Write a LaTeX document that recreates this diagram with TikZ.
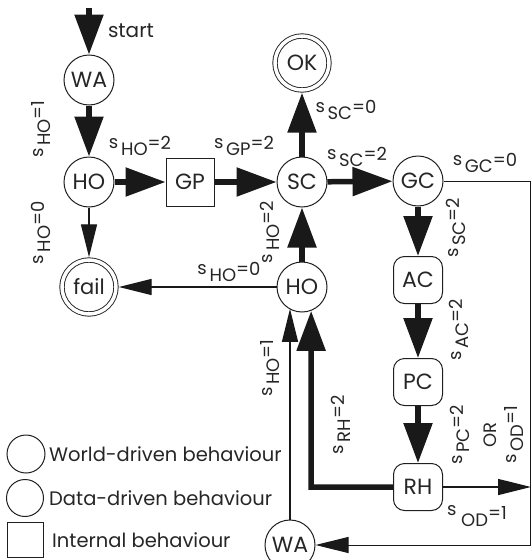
\documentclass[tikz,border=0pt]{standalone}
\usepackage{fontspec}
\setmainfont{Poppins}
\usetikzlibrary{arrows.meta,calc}
\newcommand{\slab}[2]{\raisebox{0.4em}{s}\kern0.15em #1\raisebox{0.32em}{=#2}}
\begin{document}
\begin{tikzpicture}[x=1pt,y=-1pt,
  st/.style={circle,draw=black!88,line width=1pt,minimum size=50pt,inner sep=0pt,text=black!85,font=\fontsize{22}{22}\selectfont},
  fin/.style={st,double,double distance=3.5pt,line width=0.9pt,minimum size=54pt,outer sep=2.7pt},
  box/.style={rectangle,draw=black!88,line width=1pt,minimum size=48pt,inner sep=0pt,text=black!85,font=\fontsize{22}{22}\selectfont},
  dbox/.style={rectangle,rounded corners=11pt,draw=black!88,line width=1pt,minimum width=49pt,minimum height=47pt,inner sep=0pt,text=black!85,font=\fontsize{22}{22}\selectfont},
  thk/.style={draw=black!90,line width=5.5pt,-{Triangle[length=40pt,width=28pt]}},
  thn/.style={draw=black!90,line width=1.3pt,-{Triangle[length=33pt,width=16pt]}},
  lbl/.style={inner sep=0pt,text=black!85,font=\fontsize{18}{27}\selectfont},
  leg/.style={inner sep=0pt,anchor=west,text=black!85,font=\fontsize{19.5}{19.5}\selectfont}]
\useasboundingbox (0,0) rectangle (532,560);
% states
\node[st] (WA1) at (89,80) {WA};
\node[st] (HO1) at (89,182) {HO};
\node[fin,font=\fontsize{21}{21}\selectfont] (fail) at (89,287) {fail};
\node[box] (GP) at (190,182) {GP};
\node[st] (SC) at (302,182) {SC};
\node[fin] (OK) at (302,63) {OK};
\node[st] (GC) at (418,181) {GC};
\node[dbox] (AC) at (418,280) {AC};
\node[dbox] (PC) at (418,382) {PC};
\node[dbox] (RH) at (418,487) {RH};
\node[st] (HOm) at (302,287) {HO};
\node[st] (WA2) at (290,545) {WA};
% helper coordinates
\coordinate (cS) at (89,8);
\coordinate (cR) at (531,487);
\coordinate (cC1) at (530,181);
\coordinate (cC2) at (530,545);
\coordinate (bend) at (311,487);
% connectors
\draw[thk] (cS) -- (WA1);
\draw[thk] (WA1) -- (HO1);
\draw[thk] (HO1) -- (GP);
\draw[thk] (GP) -- (SC);
\draw[thn] (HO1) -- (fail);
\draw[thk] (SC) -- (OK);
\draw[thk] (SC) -- (GC);
\draw[thk] (GC) -- (AC);
\draw[thk] (AC) -- (PC);
\draw[thk] (PC) -- (RH);
\draw[thk] (HOm) -- (SC);
\draw[thn] (HOm) -- (fail);
\draw[thk] (RH.west) -- (bend) -- (HOm.-69);
\draw[thn] (RH.east) -- (cR);
\draw[thn,line width=1pt] (GC.east) -- (cC1) -- (cC2) -- (WA2.east);
\draw[thn] (WA2.north) -- (WA2.north |- HOm.-121);
% labels
\node[lbl,font=\fontsize{20}{20}\selectfont] (start) at (131,31) {start};
\node[lbl,rotate=90] (l1) at (41,129) {\slab{HO}{1}};
\node[lbl,rotate=90] (l2) at (41,233) {\slab{HO}{0}};
\node[lbl] (l3) at (140,146) {\slab{HO}{2}};
\node[lbl] (l4) at (244,146) {\slab{GP}{2}};
\node[lbl] (l5) at (346,110) {\slab{SC}{0}};
\node[lbl] (l6) at (357,157) {\slab{SC}{2}};
\node[lbl] (l7) at (485,163) {\slab{GC}{0}};
\node[lbl,rotate=90] (l8) at (456,228) {\slab{SC}{2}};
\node[lbl,rotate=90] (l9) at (270,232) {\slab{HO}{2}};
\node[lbl] (l10) at (229,272) {\slab{HO}{0}};
\node[lbl,rotate=90] (l11) at (270,368) {\slab{HO}{1}};
\node[lbl,rotate=90] (l12) at (341,425) {\slab{RH}{2}};
\node[lbl,rotate=90] (l13) at (459,330) {\slab{AC}{2}};
\node[lbl,rotate=90,align=center] (l14) at (487,435) {\slab{PC}{2}\\OR\\\slab{OD}{1}};
\node[lbl] (l15) at (477,516) {\raisebox{0.6em}{s}\kern0.25em OD\raisebox{0.4em}{=1}};
% legend
\node[circle,draw=black!88,line width=1pt,minimum size=38pt,inner sep=0pt] (L1) at (26,454) {};
\node[leg] (T1) at (49,454) {World-driven behaviour};
\node[circle,draw=black!88,line width=1pt,minimum size=37pt,inner sep=0pt] (L2) at (25,498) {};
\node[leg] (T2) at (49,498) {Data-driven behaviour};
\node[rectangle,draw=black!88,line width=1pt,minimum width=36pt,minimum height=35pt,inner sep=0pt] (L3) at (25,540) {};
\node[leg] (T3) at (52,540) {Internal behaviour};
\end{tikzpicture}
\end{document}
